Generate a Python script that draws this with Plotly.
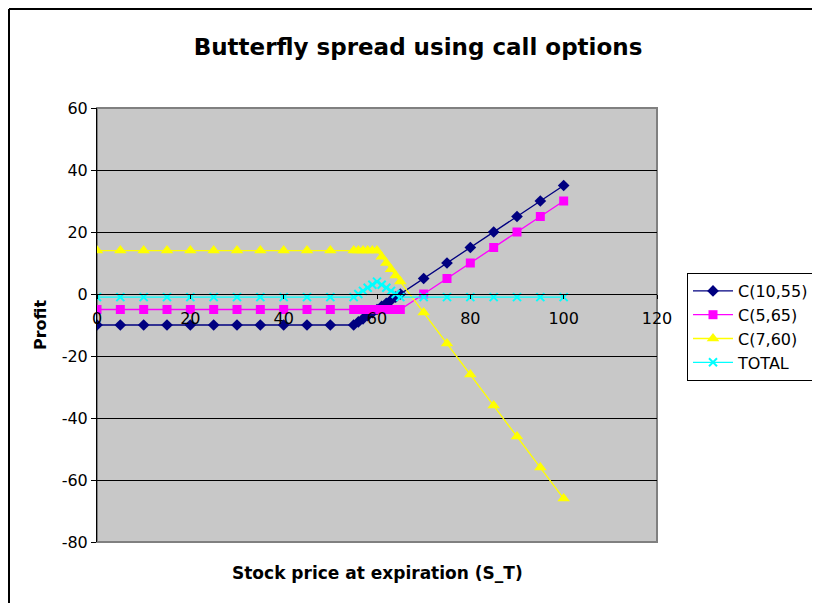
import plotly.graph_objects as go

# stock price at expiration
s_t = [0, 5, 10, 15, 20, 25, 30, 35, 40, 45, 50, 55, 56, 57, 58, 59, 60,
       61, 62, 63, 64, 65, 70, 75, 80, 85, 90, 95, 100]

# profit of each leg and of the whole spread
c_10_55 = [-10, -10, -10, -10, -10, -10, -10, -10, -10, -10, -10, -10, -9, -8, -7, -6, -5,
           -4, -3, -2, -1, 0, 5, 10, 15, 20, 25, 30, 35]
c_5_65 = [-5, -5, -5, -5, -5, -5, -5, -5, -5, -5, -5, -5, -5, -5, -5, -5, -5,
          -5, -5, -5, -5, -5, 0, 5, 10, 15, 20, 25, 30]
c_7_60 = [14, 14, 14, 14, 14, 14, 14, 14, 14, 14, 14, 14, 14, 14, 14, 14, 14,
          12, 10, 8, 6, 4, -6, -16, -26, -36, -46, -56, -66]
total = [-1, -1, -1, -1, -1, -1, -1, -1, -1, -1, -1, -1, 0, 1, 2, 3, 4,
         3, 2, 1, 0, -1, -1, -1, -1, -1, -1, -1, -1]

y_ticks = [-80, -60, -40, -20, 0, 20, 40, 60]
y_labels = ["-80", "-60", "-40", "-20", "0", "20", "40", "60"]

series = [
    ("C(10,55)", c_10_55, "#000080", "diamond", 9),
    ("C(5,65)", c_5_65, "#FF00FF", "square", 9),
    ("C(7,60)", c_7_60, "#FFFF00", "triangle-up", 11),
    ("TOTAL", total, "#00FFFF", "x-thin", 8),
]

fig = go.Figure()
for name, ys, color, symbol, size in series:
    marker = dict(symbol=symbol, size=size, color=color)
    if symbol == "x-thin":
        marker["line"] = dict(color=color, width=2)
    fig.add_trace(go.Scatter(
        x=s_t, y=ys, name=name, mode="lines+markers",
        line=dict(color=color, width=1.3),
        marker=marker,
    ))

font = "DejaVu Sans, Verdana, sans-serif"

# the page body adds an 8px offset, so figure coords = screen coords - 8
L, T, W, H = 89, 100, 560, 434

fig.update_layout(
    width=820, height=603,
    margin=dict(l=L, r=820 - L - W, t=T, b=603 - T - H),
    paper_bgcolor="white",
    plot_bgcolor="#C8C8C8",
    font=dict(family=font, size=16, color="black"),
    title=dict(text="<b>Butterfly spread using call options</b>",
               x=410 / 820, xanchor="center", y=1 - 39 / 603, yanchor="middle",
               font=dict(size=23)),
    xaxis=dict(range=[0, 120], dtick=20, anchor="free", position=80 / 140,
               showgrid=False, zeroline=False, showline=True, linecolor="black",
               ticks="outside", ticklen=4, tickcolor="black",
               ticklabelstandoff=6, tickfont=dict(size=16)),
    yaxis=dict(range=[-80, 60], tickvals=y_ticks, ticktext=y_labels,
               showgrid=True, gridcolor="black",
               gridwidth=1, zeroline=False, showline=True, linecolor="black",
               ticks="outside", ticklen=5, tickcolor="black",
               tickfont=dict(size=16)),
    legend=dict(x=(679 - L) / W, y=(T + H - 265) / H, xanchor="left", yanchor="top",
                bordercolor="black", borderwidth=1, bgcolor="white",
                font=dict(size=16), tracegroupgap=0, itemwidth=40),
    showlegend=True,
    annotations=[
        dict(text="<b>Stock price at expiration (S_T)</b>", xref="paper", yref="paper",
             x=0.5, y=(T + H - 565) / H, xanchor="center", yanchor="middle",
             showarrow=False, font=dict(size=17)),
        dict(text="<b>Profit</b>", xref="paper", yref="paper",
             x=(32 - L) / W, y=0.5, xanchor="center", yanchor="middle",
             textangle=-90, showarrow=False, font=dict(size=16)),
    ],
    shapes=[
        # plot area border
        dict(type="rect", xref="paper", yref="paper", x0=0, y0=0, x1=1, y1=1,
             line=dict(color="#808080", width=2), layer="between"),
        # chart area border (left and top edges visible)
        dict(type="line", xref="paper", yref="paper",
             x0=(1 - L) / W, x1=(1 - L) / W, y0=-0.5, y1=(T + H - 1) / H,
             line=dict(color="black", width=2)),
        dict(type="line", xref="paper", yref="paper",
             x0=(1 - L) / W, x1=1.6, y0=(T + H - 1) / H, y1=(T + H - 1) / H,
             line=dict(color="black", width=2)),
    ],
)

fig.write_html("out.html")
